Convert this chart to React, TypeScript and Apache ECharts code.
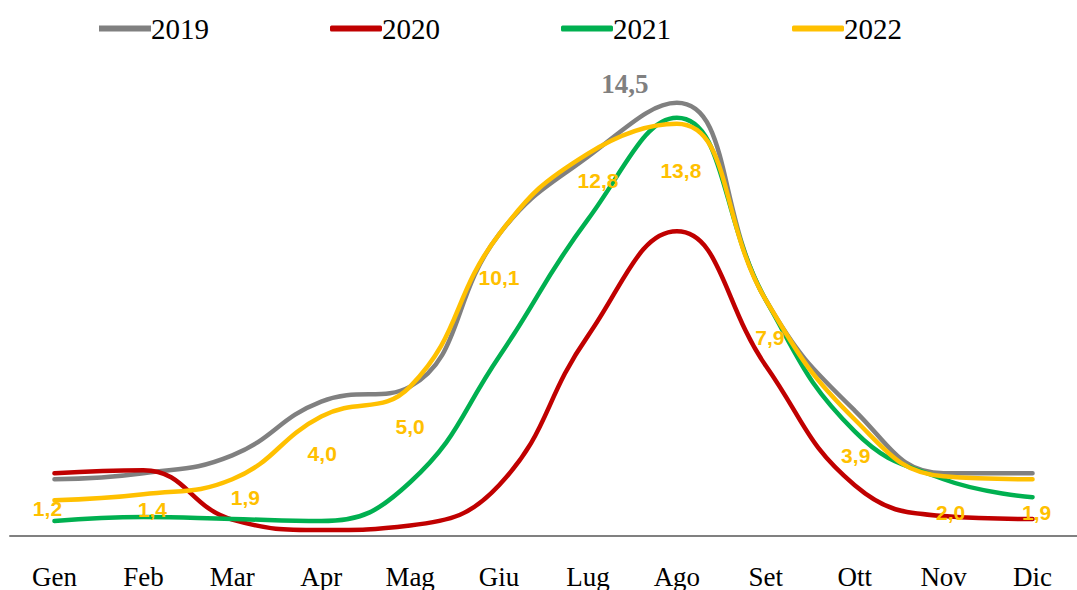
import React, { useEffect, useRef } from "react";
import * as echarts from "echarts";

const months = ["Gen", "Feb", "Mar", "Apr", "Mag", "Giu", "Lug", "Ago", "Set", "Ott", "Nov", "Dic"];
const years = ["2019", "2020", "2021", "2022"];
const v2019 = [1.9, 2.1, 2.7, 4.5, 5.0, 10.1, 12.7, 14.5, 7.9, 4.2, 2.1, 2.1];
const v2020 = [2.1, 2.2, 0.55, 0.2, 0.35, 1.7, 6.7, 10.2, 5.7, 1.7, 0.67, 0.57];
const v2021 = [0.5, 0.64, 0.57, 0.5, 1.8, 6.0, 10.6, 14.0, 7.9, 3.5, 1.9, 1.3];
const v2022 = [1.2, 1.4, 1.9, 4.0, 5.0, 10.1, 12.8, 13.8, 7.9, 3.9, 2.0, 1.9];

// label placement (styling only)
const labelShift2022: [number, number][] = [
  [-7, 8], [9, 15], [13, 18], [1, 37], [0, 40], [0, 43],
  [10, 27], [4, 47], [4, 38], [1, 36], [7, 36], [4, 33],
];
const peakIndex2019 = 7;

const colors = ["#808080", "#C00000", "#00B050", "#FFC000"];

export default function App() {
  const ref = useRef<HTMLDivElement>(null);
  useEffect(() => {
    if (!ref.current) return;
    const chart = echarts.init(ref.current, null, { renderer: "svg" });
    const all = [v2019, v2020, v2021, v2022];
    const series: any[] = all.map((vals, i) => {
      let data: any[] = vals.slice();
      if (i === 3) {
        data = vals.map((v, k) => ({
          value: v,
          label: {
            show: true,
            position: "inside",
            offset: labelShift2022[k],
            formatter: v.toFixed(1).replace(".", ","),
            color: "#FFC000",
            fontFamily: "Liberation Sans",
            fontWeight: "bold",
            fontSize: 21,
          },
        }));
      }
      if (i === 0) {
        data = vals.map((v, k) =>
          k === peakIndex2019
            ? {
                value: v,
                label: {
                  show: true,
                  position: "top",
                  distance: 8,
                  offset: [-52, 4],
                  formatter: v.toFixed(1).replace(".", ","),
                  color: "#808080",
                  fontFamily: "Liberation Serif",
                  fontWeight: "bold",
                  fontSize: 27,
                },
              }
            : v
        );
      }
      return {
        name: years[i],
        type: "line",
        data,
        smooth: 0.45,
        symbol: "circle",
        symbolSize: 2,
        showSymbol: true,
        lineStyle: { color: colors[i], width: 4.5, cap: "round" },
        itemStyle: { color: colors[i] },
        z: 2 + i,
      };
    });
    chart.setOption({
      animation: false,
      color: colors,
      legend: {
        top: 9,
        left: 94,
        itemWidth: 52,
        itemHeight: 6,
        itemGap: 121,
        icon: "rect",
        textStyle: { fontFamily: "Liberation Serif", fontSize: 29, color: "#000", padding: [0, 0, 0, -5] },
        data: years.map((y, i) => ({ name: y, icon: i === 0 ? "rect" : "roundRect" })),
      },
      grid: { left: 10, right: -7, top: 58, bottom: 54, containLabel: false },
      xAxis: {
        type: "category",
        data: months,
        boundaryGap: true,
        axisLine: { lineStyle: { color: "#808080", width: 2 } },
        axisTick: { show: false },
        axisLabel: { fontFamily: "Liberation Serif", fontSize: 27, color: "#000", margin: 27 },
      },
      yAxis: {
        type: "value",
        min: 0,
        max: 16,
        show: false,
        splitLine: { show: false },
      },
      series,
    });
    return () => chart.dispose();
  }, []);
  return (
    <div
      ref={ref}
      style={{ position: "absolute", left: 0, top: 0, width: 1077, height: 590, background: "#fff" }}
    />
  );
}
